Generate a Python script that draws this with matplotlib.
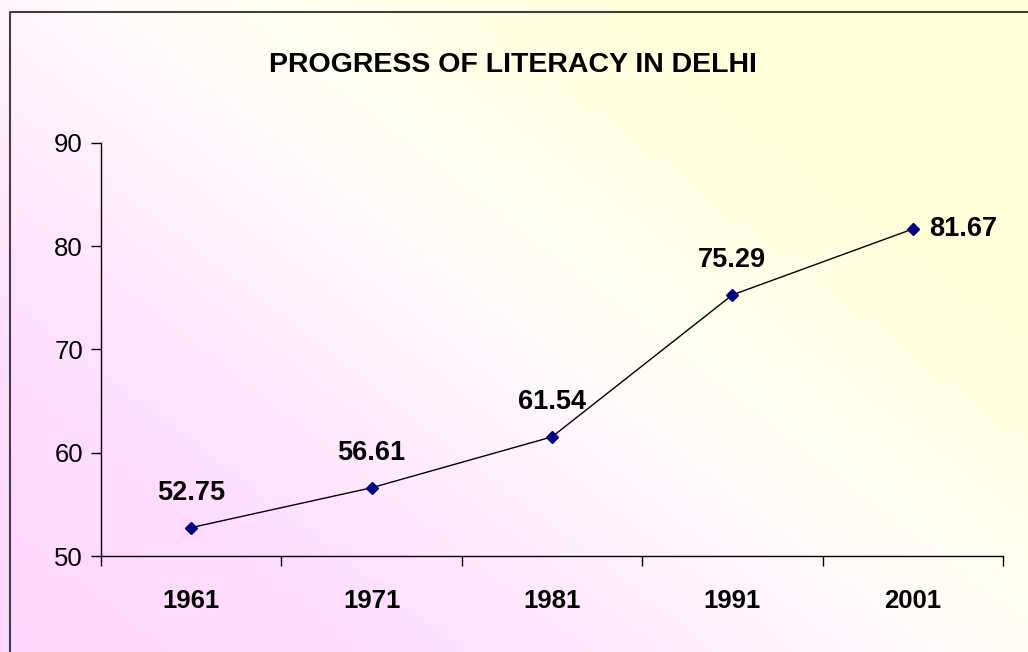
import matplotlib
matplotlib.use("Agg")
import matplotlib.pyplot as plt
import numpy as np
from matplotlib.colors import LinearSegmentedColormap

years = ["1961", "1971", "1981", "1991", "2001"]
literacy = [52.75, 56.61, 61.54, 75.29, 81.67]
y_ticks = [50, 60, 70, 80, 90]
title = "PROGRESS OF LITERACY IN DELHI"

W, H = 1028, 652
dpi = 100
fig = plt.figure(figsize=(W / dpi, H / dpi), dpi=dpi)

# gradient background (pink bottom-left -> white -> yellow top-right)
bg = fig.add_axes([0, 0, 1, 1], zorder=0)
bg.set_axis_off()
ny, nx = 200, 320
xx, yy = np.meshgrid(np.linspace(0, 1, nx), np.linspace(0, 1, ny))
t = (xx * 0.55 + yy * 0.45)
cmap = LinearSegmentedColormap.from_list(
    "g", [(0.0, "#FFD6FF"), (0.22, "#FFDEFF"), (0.48, "#FFF8FC"), (0.58, "#FFFFF2"), (0.78, "#FFFFDA"), (1.0, "#FFFFD8")])
bg.imshow(t, cmap=cmap, origin="lower", extent=[0, 1, 0, 1], aspect="auto", vmin=0, vmax=1)
bg.set_xlim(0, 1)
bg.set_ylim(0, 1)
# border of chart area (left and top visible)
bx = 9.5 / W
by = 1 - 11.5 / H
bg.plot([bx, bx, 1.0], [0, by, by], color="#404040", lw=1.5, transform=bg.transAxes, clip_on=False)

left, right = 101 / W, 1003 / W
bottom, top = 1 - 556 / H, 1 - 143 / H
ax = fig.add_axes([left, bottom, right - left, top - bottom], zorder=1)
ax.patch.set_alpha(0)

x = np.arange(len(years))
ax.plot(x, literacy, color="black", lw=1, zorder=2)
ax.plot(x, literacy, ls="none", marker="D", ms=6.5, mfc="#000080", mec="#000080", zorder=3)

ax.set_xlim(-0.5, len(years) - 0.5)
ax.set_ylim(50, 90)
ax.set_yticks(y_ticks)
ax.set_yticklabels([str(v) for v in y_ticks], fontsize=18.5, family="Liberation Sans")
ax.set_xticks(np.arange(-0.5, len(years), 1.0))
ax.set_xticklabels([])
ax.tick_params(axis="y", direction="out", length=7, width=1, pad=6)
ax.tick_params(axis="x", direction="out", length=7, width=1)
for i, yr in enumerate(years):
    ax.text(i, -0.11, yr, transform=ax.get_xaxis_transform(), ha="center", va="center",
            fontsize=18.5, fontweight="bold", family="Liberation Sans")

for s in ["top", "right"]:
    ax.spines[s].set_visible(False)
ax.spines["left"].set_linewidth(1)
ax.spines["bottom"].set_linewidth(1)

for i, v in enumerate(literacy):
    if i == len(literacy) - 1:
        ax.annotate(f"{v:.2f}", (i, v), xytext=(12, 0), textcoords="offset points",
                    ha="left", va="center", fontsize=19.5, fontweight="bold", family="Liberation Sans")
    else:
        ax.annotate(f"{v:.2f}", (i, v), xytext=(0, 25), textcoords="offset points",
                    ha="center", va="center", fontsize=19.5, fontweight="bold", family="Liberation Sans")

fig.text(513 / W, 1 - 65 / H, title, ha="center", va="center", fontsize=20.5,
         fontweight="bold", family="Liberation Sans")

fig.savefig("out.png", dpi=dpi)
